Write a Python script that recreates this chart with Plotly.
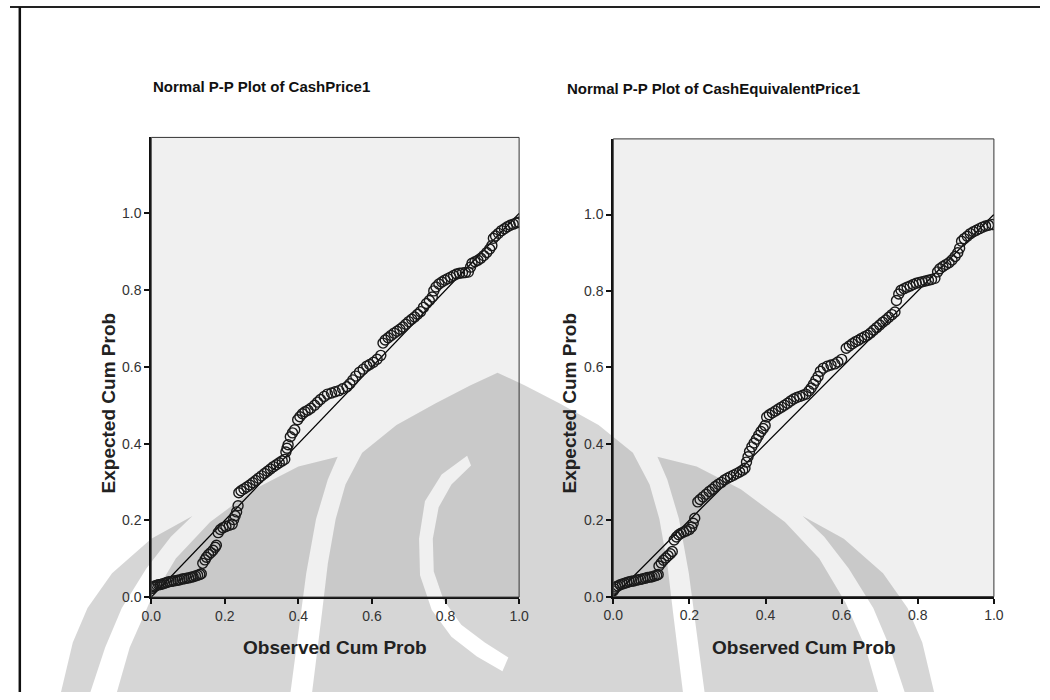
import plotly.graph_objects as go

# ---- data ----
cash_obs = [0.000,0.003,0.006,0.010,0.015,0.020,0.025,0.030,0.036,0.042,0.048,0.054,0.060,0.066,0.072,0.078,0.084,0.090,0.096,0.102,0.108,0.114,0.120,0.126,0.132,0.136,
            0.140,0.146,0.150,0.156,0.162,0.168,0.174,0.177,
            0.182,0.188,0.195,0.203,0.212,0.220,0.224,0.228,0.232,0.236,
            0.238,0.244,0.252,0.260,0.268,0.276,0.284,0.292,0.300,0.308,0.316,0.324,0.332,0.340,0.348,0.356,0.363,
            0.366,0.369,0.372,0.378,0.384,0.390,
            0.398,0.404,0.411,0.418,0.426,0.434,0.444,0.452,0.460,0.470,0.479,0.490,0.500,0.510,0.520,0.532,0.540,0.548,0.556,0.566,0.576,0.586,0.594,0.604,0.614,0.624,
            0.630,0.636,0.644,0.652,0.660,0.668,0.676,0.684,0.692,0.700,0.708,0.716,0.724,0.732,0.740,0.748,0.756,0.764,0.768,0.774,0.782,0.790,0.798,0.806,0.814,0.822,0.830,0.838,0.846,0.854,0.862,
            0.868,0.872,0.880,0.888,0.896,0.904,0.912,0.920,0.926,0.930,0.936,0.944,0.952,0.960,0.968,0.976,0.984,0.992,0.999]
cash_exp = [0.022,0.026,0.028,0.029,0.031,0.032,0.033,0.034,0.036,0.038,0.040,0.041,0.042,0.043,0.044,0.045,0.047,0.048,0.049,0.050,0.052,0.053,0.055,0.057,0.059,0.061,
            0.088,0.097,0.104,0.111,0.116,0.122,0.130,0.135,
            0.168,0.176,0.181,0.184,0.187,0.190,0.202,0.212,0.222,0.238,
            0.272,0.277,0.282,0.287,0.292,0.298,0.304,0.310,0.316,0.322,0.328,0.334,0.340,0.345,0.350,0.355,0.359,
            0.378,0.388,0.397,0.418,0.428,0.436,
            0.462,0.470,0.478,0.483,0.487,0.492,0.500,0.508,0.515,0.523,0.529,0.532,0.535,0.538,0.543,0.548,0.556,0.566,0.576,0.586,0.594,0.602,0.606,0.612,0.620,0.630,
            0.662,0.670,0.676,0.682,0.688,0.693,0.698,0.704,0.711,0.718,0.724,0.730,0.737,0.744,0.755,0.765,0.773,0.782,0.798,0.808,0.816,0.821,0.826,0.830,0.834,0.838,0.842,0.844,0.845,0.846,0.847,
            0.860,0.870,0.874,0.878,0.883,0.890,0.898,0.907,0.916,0.935,0.941,0.948,0.955,0.960,0.965,0.969,0.972,0.975,0.977]

equiv_obs = [0.000,0.003,0.007,0.012,0.018,0.024,0.030,0.036,0.042,0.048,0.054,0.060,0.066,0.072,0.078,0.084,0.090,0.096,0.102,0.108,0.114,0.118,
             0.120,0.126,0.132,0.138,0.144,0.150,0.155,
             0.160,0.166,0.172,0.178,0.185,0.192,0.200,0.206,0.210,0.214,
             0.222,0.228,0.236,0.244,0.252,0.260,0.268,0.276,0.284,0.292,0.300,0.308,0.316,0.324,0.332,0.340,0.346,
             0.350,0.354,0.358,0.364,0.370,0.376,0.382,0.388,0.394,0.399,
             0.403,0.410,0.418,0.426,0.434,0.442,0.450,0.458,0.466,0.474,0.482,0.490,0.498,0.506,0.514,0.520,0.526,0.532,0.538,0.544,0.552,0.562,0.572,0.582,0.590,0.600,
             0.612,0.620,0.628,0.636,0.644,0.652,0.660,0.668,0.676,0.684,0.692,0.700,0.708,0.716,0.724,0.732,0.740,
             0.744,0.750,0.756,0.764,0.772,0.780,0.788,0.796,0.804,0.812,0.820,0.828,0.836,0.845,
             0.852,0.858,0.866,0.874,0.882,0.890,0.898,0.905,0.910,0.915,0.922,0.930,0.938,0.946,0.954,0.962,0.970,0.978,0.986,0.996]
equiv_exp = [0.015,0.020,0.025,0.028,0.031,0.033,0.035,0.037,0.039,0.040,0.041,0.043,0.044,0.045,0.047,0.048,0.050,0.051,0.052,0.054,0.056,0.058,
             0.080,0.088,0.095,0.101,0.107,0.112,0.118,
             0.148,0.156,0.162,0.166,0.169,0.172,0.176,0.182,0.192,0.205,
             0.248,0.254,0.261,0.268,0.275,0.281,0.288,0.294,0.299,0.305,0.310,0.314,0.318,0.322,0.326,0.331,0.336,
             0.352,0.366,0.380,0.392,0.402,0.412,0.422,0.432,0.440,0.448,
             0.470,0.476,0.481,0.486,0.491,0.496,0.501,0.506,0.512,0.517,0.521,0.524,0.527,0.530,0.538,0.546,0.556,0.566,0.576,0.590,0.598,0.603,0.606,0.609,0.614,0.621,
             0.650,0.656,0.662,0.667,0.671,0.676,0.680,0.684,0.690,0.697,0.704,0.711,0.718,0.724,0.731,0.738,0.745,
             0.775,0.792,0.802,0.806,0.810,0.813,0.817,0.820,0.822,0.824,0.826,0.828,0.830,0.833,
             0.850,0.858,0.864,0.869,0.874,0.881,0.890,0.900,0.912,0.930,0.937,0.943,0.950,0.955,0.959,0.963,0.967,0.970,0.972,0.974]

ref_line = [0.0, 1.0]
tick_vals = [0.0, 0.2, 0.4, 0.6, 0.8, 1.0]
titles = ["Normal P-P Plot of CashPrice1", "Normal P-P Plot of CashEquivalentPrice1"]
x_title = "Observed Cum Prob"
y_title = "Expected Cum Prob"

FONT = "Liberation Sans, Arial, sans-serif"
W, H = 1050, 700

fig = go.Figure()
marker = dict(symbol="circle-open", size=10, color="#1a1a1a", line=dict(width=1.4, color="#1a1a1a"))

for i, (xs, ys) in enumerate([(cash_obs, cash_exp), (equiv_obs, equiv_exp)]):
    xa = "x" if i == 0 else "x2"
    ya = "y" if i == 0 else "y2"
    fig.add_trace(go.Scatter(x=ref_line, y=ref_line, mode="lines",
                             line=dict(color="#000000", width=1.3),
                             xaxis=xa, yaxis=ya, hoverinfo="skip", showlegend=False))
    fig.add_trace(go.Scatter(x=xs, y=ys, mode="markers", marker=marker,
                             xaxis=xa, yaxis=ya, showlegend=False))

dom_x = [[144 / W, 519 / W], [615 / W, 1003 / W]]
dom_y = [[(H - 604) / H, (H - 139) / H], [(H - 603.5) / H, (H - 140.5) / H]]

axis_common = dict(range=[0, 1.0], tickvals=tick_vals, tickformat=".1f",
                   ticks="outside", ticklen=5, tickwidth=1.5, tickcolor="#111",
                   showline=True, linecolor="#111", linewidth=2, showgrid=False,
                   zeroline=False, tickfont=dict(family=FONT, size=14, color="#333"))
yaxis_common = dict(axis_common)
yaxis_common["range"] = [0, 1.198]

fig.update_layout(
    width=W, height=H, margin=dict(l=0, r=0, t=0, b=0),
    paper_bgcolor="white", plot_bgcolor="rgba(0,0,0,0)",
    xaxis=dict(axis_common, domain=dom_x[0], anchor="y"),
    yaxis=dict(yaxis_common, domain=dom_y[0], anchor="x"),
    xaxis2=dict(axis_common, domain=dom_x[1], anchor="y2"),
    yaxis2=dict(yaxis_common, domain=dom_y[1], anchor="x2"),
)


# ---- background watermark (light logo behind the charts), pixel geometry ----
def P(x, y):
    return "%.5f,%.5f" % (x / W, 1 - y / H)


def poly(pts):
    return "M" + " L".join(P(x, y) for x, y in pts) + " Z"


def mirror(pts):
    return [(994 - x, y) for x, y in pts]


flame_right = [(497, 377), (525, 390), (560, 408), (600, 430), (635, 458), (652, 490), (662, 525),
               (670, 570), (676, 620), (681, 660), (686, 700)]
flame = flame_right + [(994 - x, y) for x, y in reversed(flame_right[1:])]
band_outer = [(466, 461), (440, 480), (423, 507), (417, 545), (418, 582), (430, 617), (450, 644), (476, 664), (502, 679)]
band_inner = [(470, 471), (450, 490), (437, 513), (431, 545), (432, 578), (442, 607), (460, 632), (484, 650), (508, 665)]
band = band_outer + list(reversed(band_inner))

wing_b = [(660, 462), (700, 472), (745, 495), (790, 528), (825, 565), (852, 610), (872, 655), (885, 700),
          (708, 700), (700, 640), (692, 580), (682, 525), (670, 485)]
wing_c = [(808, 522), (850, 545), (890, 580), (915, 615), (930, 650), (942, 700),
          (912, 700), (897, 655), (880, 615), (855, 575), (830, 543)]

shapes = []
for i in range(2):
    shapes.append(dict(type="rect", xref="paper", yref="paper",
                       x0=dom_x[i][0], x1=dom_x[i][1], y0=dom_y[i][0], y1=dom_y[i][1],
                       fillcolor="#f0f0f0", line=dict(width=0), layer="below"))
wm = dict(type="path", xref="paper", yref="paper", fillcolor="rgba(0,0,0,0.16)",
          line=dict(width=0), layer="below")
shapes.append(dict(wm, path=poly(flame) + " " + poly(band), fillrule="evenodd"))
for wpts in (wing_b, wing_c):
    shapes.append(dict(wm, path=poly(wpts)))
    shapes.append(dict(wm, path=poly(mirror(wpts))))

for i in range(2):
    shapes.append(dict(type="rect", xref="paper", yref="paper",
                       x0=dom_x[i][0], x1=dom_x[i][1], y0=dom_y[i][0], y1=dom_y[i][1],
                       line=dict(color="#333", width=1), layer="above"))
shapes.append(dict(type="line", xref="paper", yref="paper", x0=0, x1=1, y0=(H - 7) / H, y1=(H - 7) / H,
                   line=dict(color="#222", width=2)))
shapes.append(dict(type="line", xref="paper", yref="paper", x0=10 / W, x1=10 / W, y0=0, y1=(H - 7) / H,
                   line=dict(color="#111", width=2.5)))
fig.update_layout(shapes=shapes)

ann = []
title_pos = [(256, 88), (717, 90)]
for t, (cx, cy) in zip(titles, title_pos):
    ann.append(dict(text="<b>%s</b>" % t, x=cx / W, y=(H - cy) / H, xref="paper", yref="paper",
                    showarrow=False, xanchor="center", yanchor="middle",
                    font=dict(family=FONT, size=15, color="#111")))
for cx in [331, 809]:
    ann.append(dict(text="<b>%s</b>" % x_title, x=cx / W, y=(H - 655) / H, xref="paper", yref="paper",
                    showarrow=False, xanchor="center", yanchor="middle",
                    font=dict(family=FONT, size=19, color="#222")))
for cx in [100, 570]:
    ann.append(dict(text="<b>%s</b>" % y_title, x=cx / W, y=(H - 408) / H, xref="paper", yref="paper",
                    showarrow=False, xanchor="center", yanchor="middle", textangle=-90,
                    font=dict(family=FONT, size=19, color="#222")))
fig.update_layout(annotations=ann)

fig.write_html("out.html", config={"displayModeBar": False},
               post_script="document.body.style.margin='0px';")
